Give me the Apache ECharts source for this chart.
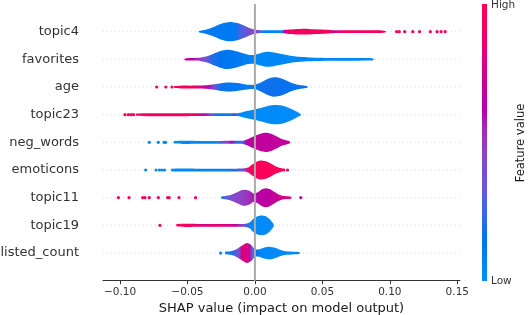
<!DOCTYPE html>
<html><head><meta charset="utf-8">
<script src="https://cdn.jsdelivr.net/npm/echarts@6/dist/echarts.min.js"></script>
<style>html,body{margin:0;padding:0;background:#fff}#c{width:528px;height:315px}</style>
</head><body><div id="c"></div>
<script>
// ---- data (top to bottom) ----
const features = ['topic4','favorites','age','topic23','neg_words','emoticons','topic11','topic19','listed_count'];
const xTicks = [-0.10, -0.05, 0.00, 0.05, 0.10, 0.15];

// violin half-width profiles: [shap value, half width (row units)]
const topic4Shape = [[-0.0415,0.02],[-0.036,0.08],[-0.030,0.18],[-0.024,0.30],[-0.0185,0.35],[-0.013,0.31],[-0.007,0.20],[-0.002,0.10],[0.002,0.06],[0.005,0.05],[0.010,0.05],[0.020,0.055],[0.025,0.08],[0.033,0.10],[0.040,0.10],[0.050,0.075],[0.058,0.055],[0.065,0.05],[0.080,0.05],[0.094,0.045],[0.097,0.02]];
const favoritesShape = [[-0.052,0.03],[-0.045,0.045],[-0.040,0.065],[-0.035,0.12],[-0.030,0.22],[-0.025,0.31],[-0.021,0.35],[-0.016,0.32],[-0.010,0.24],[-0.005,0.17],[-0.001,0.16],[0.004,0.22],[0.009,0.27],[0.014,0.25],[0.020,0.19],[0.026,0.13],[0.033,0.09],[0.040,0.07],[0.048,0.06],[0.055,0.05],[0.065,0.05],[0.075,0.05],[0.085,0.045],[0.088,0.02]];
const ageShape = [[-0.060,0.03],[-0.055,0.05],[-0.048,0.05],[-0.042,0.055],[-0.036,0.065],[-0.030,0.10],[-0.025,0.14],[-0.020,0.16],[-0.015,0.15],[-0.010,0.12],[-0.005,0.08],[0.000,0.08],[0.004,0.15],[0.009,0.28],[0.014,0.35],[0.019,0.32],[0.024,0.22],[0.029,0.12],[0.033,0.07],[0.037,0.045],[0.039,0.02]];
const topic23Shape = [[-0.088,0.04],[-0.070,0.055],[-0.050,0.055],[-0.040,0.05],[-0.030,0.05],[-0.020,0.05],[-0.014,0.05],[-0.010,0.08],[-0.005,0.14],[0.000,0.19],[0.005,0.25],[0.010,0.32],[0.015,0.35],[0.020,0.33],[0.025,0.25],[0.030,0.13],[0.033,0.05],[0.034,0.02]];
const negWordsShape = [[-0.060,0.045],[-0.040,0.05],[-0.025,0.05],[-0.015,0.055],[-0.009,0.06],[-0.005,0.12],[0.000,0.24],[0.004,0.31],[0.008,0.345],[0.012,0.31],[0.016,0.22],[0.020,0.12],[0.024,0.065],[0.026,0.03]];
const emoticonsShape = [[-0.062,0.045],[-0.040,0.05],[-0.020,0.05],[-0.009,0.055],[-0.005,0.09],[-0.002,0.20],[0.002,0.32],[0.005,0.345],[0.009,0.30],[0.013,0.20],[0.016,0.12],[0.019,0.07],[0.021,0.045],[0.022,0.02]];
const topic11Shape = [[-0.025,0.03],[-0.022,0.06],[-0.018,0.10],[-0.014,0.18],[-0.010,0.27],[-0.007,0.29],[-0.004,0.25],[-0.001,0.15],[0.002,0.20],[0.005,0.30],[0.008,0.345],[0.011,0.31],[0.014,0.22],[0.017,0.13],[0.020,0.07],[0.024,0.05],[0.027,0.03]];
const topic19Shape = [[-0.058,0.045],[-0.040,0.05],[-0.020,0.05],[-0.008,0.05],[-0.004,0.10],[-0.001,0.25],[0.002,0.33],[0.005,0.355],[0.008,0.33],[0.011,0.22],[0.013,0.10],[0.014,0.03]];
const listedCountShape = [[-0.022,0.045],[-0.018,0.065],[-0.014,0.13],[-0.010,0.25],[-0.006,0.36],[-0.003,0.30],[0.000,0.14],[0.003,0.13],[0.007,0.20],[0.011,0.23],[0.015,0.19],[0.019,0.11],[0.023,0.065],[0.028,0.05],[0.033,0.035]];

// smoothed feature value along the violin: [shap value, feature value 0..1]
const topic4Colors = [[-0.0415,0.12],[-0.015,0.12],[-0.009,0.3],[-0.003,0.42],[0.003,0.4],[0.006,0.05],[0.020,0.05],[0.022,0.7],[0.026,0.92],[0.055,0.95],[0.060,0.6],[0.063,0.9],[0.097,0.95]];
const favoritesColors = [[-0.052,0.65],[-0.046,0.62],[-0.041,0.5],[-0.036,0.35],[-0.031,0.2],[-0.025,0.15],[-0.010,0.12],[0.000,0.05],[0.088,0.03]];
const ageColors = [[-0.060,0.95],[-0.046,0.92],[-0.040,0.78],[-0.035,0.6],[-0.030,0.38],[-0.026,0.18],[-0.015,0.12],[0.000,0.1],[0.005,0.18],[0.039,0.15]];
const topic23Colors = [[-0.088,0.95],[-0.046,0.92],[-0.041,0.78],[-0.037,0.6],[-0.032,0.35],[-0.027,0.12],[-0.017,0.08],[-0.0155,0.6],[-0.014,0.1],[-0.010,0.03],[0.034,0.02]];
const negWordsColors = [[-0.060,0.04],[-0.028,0.05],[-0.024,0.38],[-0.020,0.45],[-0.0175,0.65],[-0.014,0.2],[-0.009,0.3],[-0.006,0.62],[-0.003,0.68],[0.026,0.68]];
const emoticonsColors = [[-0.062,0.04],[-0.025,0.05],[-0.015,0.22],[-0.008,0.4],[-0.005,0.85],[-0.003,0.97],[0.022,0.97]];
const topic11Colors = [[-0.025,0.1],[-0.021,0.33],[-0.016,0.42],[-0.010,0.46],[-0.005,0.52],[0.000,0.6],[0.005,0.65],[0.012,0.66],[0.020,0.75],[0.027,0.85]];
const topic19Colors = [[-0.058,0.95],[-0.045,0.9],[-0.038,0.75],[-0.030,0.85],[-0.022,0.8],[-0.015,0.7],[-0.010,0.5],[-0.006,0.25],[-0.003,0.03],[0.014,0.02]];
const listedCountColors = [[-0.022,0.05],[-0.016,0.2],[-0.012,0.4],[-0.0095,0.7],[-0.008,0.95],[-0.0065,0.65],[-0.0055,0.95],[-0.004,0.6],[-0.002,0.35],[0.001,0.15],[0.005,0.04],[0.033,0.03]];

// isolated sample dots: [shap value, feature value]
const topic4Dots = [[0.105,0.95],[0.107,0.95],[0.111,0.95],[0.117,0.95],[0.122,0.95],[0.130,0.95],[0.135,0.95],[0.138,0.95],[0.141,0.95]];
const favoritesDots = [];
const ageDots = [[-0.0728,0.95],[-0.066,0.95],[-0.0615,0.95]];
const topic23Dots = [[-0.0963,0.95],[-0.0938,0.95],[-0.0918,0.95],[-0.0900,0.95]];
const negWordsDots = [[-0.0783,0.04],[-0.0716,0.04],[-0.0674,0.04],[-0.0662,0.04]];
const emoticonsDots = [[-0.081,0.04],[-0.0733,0.04],[-0.0708,0.04],[-0.0690,0.04],[-0.0670,0.04],[0.0215,0.95],[0.0242,0.95]];
const topic11Dots = [[-0.1012,0.95],[-0.0933,0.95],[-0.0832,0.95],[-0.0815,0.95],[-0.0783,0.95],[-0.0716,0.95],[-0.0647,0.95],[-0.0635,0.95],[-0.0563,0.95],[-0.0440,0.95],[0.0340,0.6]];
const topic19Dots = [[-0.0704,0.95]];
const listedCountDots = [[-0.0254,0.05]];

const shapes = [topic4Shape,favoritesShape,ageShape,topic23Shape,negWordsShape,emoticonsShape,topic11Shape,topic19Shape,listedCountShape];
const colorProfiles = [topic4Colors,favoritesColors,ageColors,topic23Colors,negWordsColors,emoticonsColors,topic11Colors,topic19Colors,listedCountColors];
const dots = [topic4Dots,favoritesDots,ageDots,topic23Dots,negWordsDots,emoticonsDots,topic11Dots,topic19Dots,listedCountDots];

// ---- colormap (shap red_blue approximation) ----
const cmapStops = [[0,'#0090fa'],[0.15,'#0074f0'],[0.25,'#3d66e6'],[0.35,'#6a58d8'],[0.45,'#8a44c6'],[0.55,'#a52bb5'],[0.62,'#b400a8'],[0.72,'#cc0092'],[0.85,'#eb006e'],[1,'#ff0052']];
function hex2rgb(h){return [parseInt(h.substr(1,2),16),parseInt(h.substr(3,2),16),parseInt(h.substr(5,2),16)];}
function cmap(v){
  v=Math.max(0,Math.min(1,v));
  for(let i=1;i<cmapStops.length;i++){
    if(v<=cmapStops[i][0]){
      const a=cmapStops[i-1],b=cmapStops[i];const t=(v-a[0])/(b[0]-a[0]);
      const ca=hex2rgb(a[1]),cb=hex2rgb(b[1]);
      return 'rgb('+ca.map((c,k)=>Math.round(c+(cb[k]-c)*t)).join(',')+')';
    }
  }
  return cmapStops[cmapStops.length-1][1];
}

const X_MIN=-0.1126, X_MAX=0.152;
const n=features.length;

function renderItem(params, api){
  const i=params.dataIndex;
  const row=n-1-i;
  const children=[];
  const l=api.coord([X_MIN,row]), r=api.coord([X_MAX,row]);
  children.push({type:'line',shape:{x1:l[0],y1:l[1],x2:r[0],y2:r[1]},style:{stroke:'#cccccc',lineWidth:0.7,lineDash:[1,3]},z2:0});
  dots[i].forEach(d=>{
    const p=api.coord([d[0],row]);
    children.push({type:'circle',shape:{cx:p[0],cy:p[1],r:1.6},style:{fill:cmap(d[1])},z2:1});
  });
  const s=shapes[i];
  const top=s.map(k=>api.coord([k[0],row+k[1]]));
  const bot=s.slice().reverse().map(k=>api.coord([k[0],row-k[1]]));
  const x0=s[0][0], x1=s[s.length-1][0];
  const p0=api.coord([x0,row])[0], p1=api.coord([x1,row])[0];
  const stops=colorProfiles[i].map(c=>({offset:Math.max(0,Math.min(1,(c[0]-x0)/(x1-x0))),color:cmap(c[1])}));
  children.push({type:'polygon',shape:{points:top.concat(bot),smooth:0.25},
    style:{fill:{type:'linear',x:p0,y:0,x2:p1,y2:0,global:true,colorStops:stops}},z2:2});
  return {type:'group',children};
}

const chart=echarts.init(document.getElementById('c'),null,{renderer:'canvas'});
const fmt=v=>(v<0?'\u2212':'')+Math.abs(v).toFixed(2);
chart.setOption({
  animation:false,
  grid:{left:103,right:68,top:4,bottom:34.3,containLabel:false,outerBoundsMode:'none'},
  xAxis:{type:'value',min:X_MIN,max:X_MAX,
    axisLine:{show:true,onZero:false,lineStyle:{color:'#333333',width:1}},
    axisTick:{show:true,length:3.5,customValues:xTicks,lineStyle:{color:'#333333'}},
    axisLabel:{customValues:xTicks,formatter:fmt,color:'#333333',fontSize:10.5,fontFamily:'DejaVu Sans',margin:6},
    splitLine:{show:false},
    name:'SHAP value (impact on model output)',nameLocation:'middle',nameGap:20,
    nameTextStyle:{fontSize:13,color:'#1a1a1a',fontFamily:'DejaVu Sans'}},
  yAxis:{type:'value',min:-1,max:9,interval:1,
    axisLine:{show:false},axisTick:{show:false},splitLine:{show:false},
    axisLabel:{margin:24,fontSize:13,color:'#333333',fontFamily:'DejaVu Sans',
      formatter:v=>{const k=Math.round(v);return (k>=0&&k<n)?features[n-1-k]:'';}}},
  series:[
    {type:'custom',renderItem,data:features.map((f,i)=>[0,n-1-i]),clip:false,z:2},
    {type:'line',data:[[0,-1],[0,9]],symbol:'none',lineStyle:{color:'#aaaaaa',width:2},z:5,silent:true}
  ],
  graphic:[
    {type:'rect',shape:{x:482,y:4,width:5,height:277},
      style:{fill:{type:'linear',x:0,y:0,x2:0,y2:1,colorStops:cmapStops.map(s=>({offset:1-s[0],color:s[1]}))}}},
    {type:'text',x:491,y:5,style:{text:'High',fontSize:10.5,fill:'#333333',fontFamily:'DejaVu Sans',verticalAlign:'middle'}},
    {type:'text',x:491,y:281,style:{text:'Low',fontSize:10.5,fill:'#333333',fontFamily:'DejaVu Sans',verticalAlign:'middle'}},
    {type:'text',x:521,y:143,rotation:Math.PI/2,style:{text:'Feature value',fontSize:11.5,fill:'#1a1a1a',fontFamily:'DejaVu Sans',align:'center',verticalAlign:'middle'}}
  ]
});
</script></body></html>
